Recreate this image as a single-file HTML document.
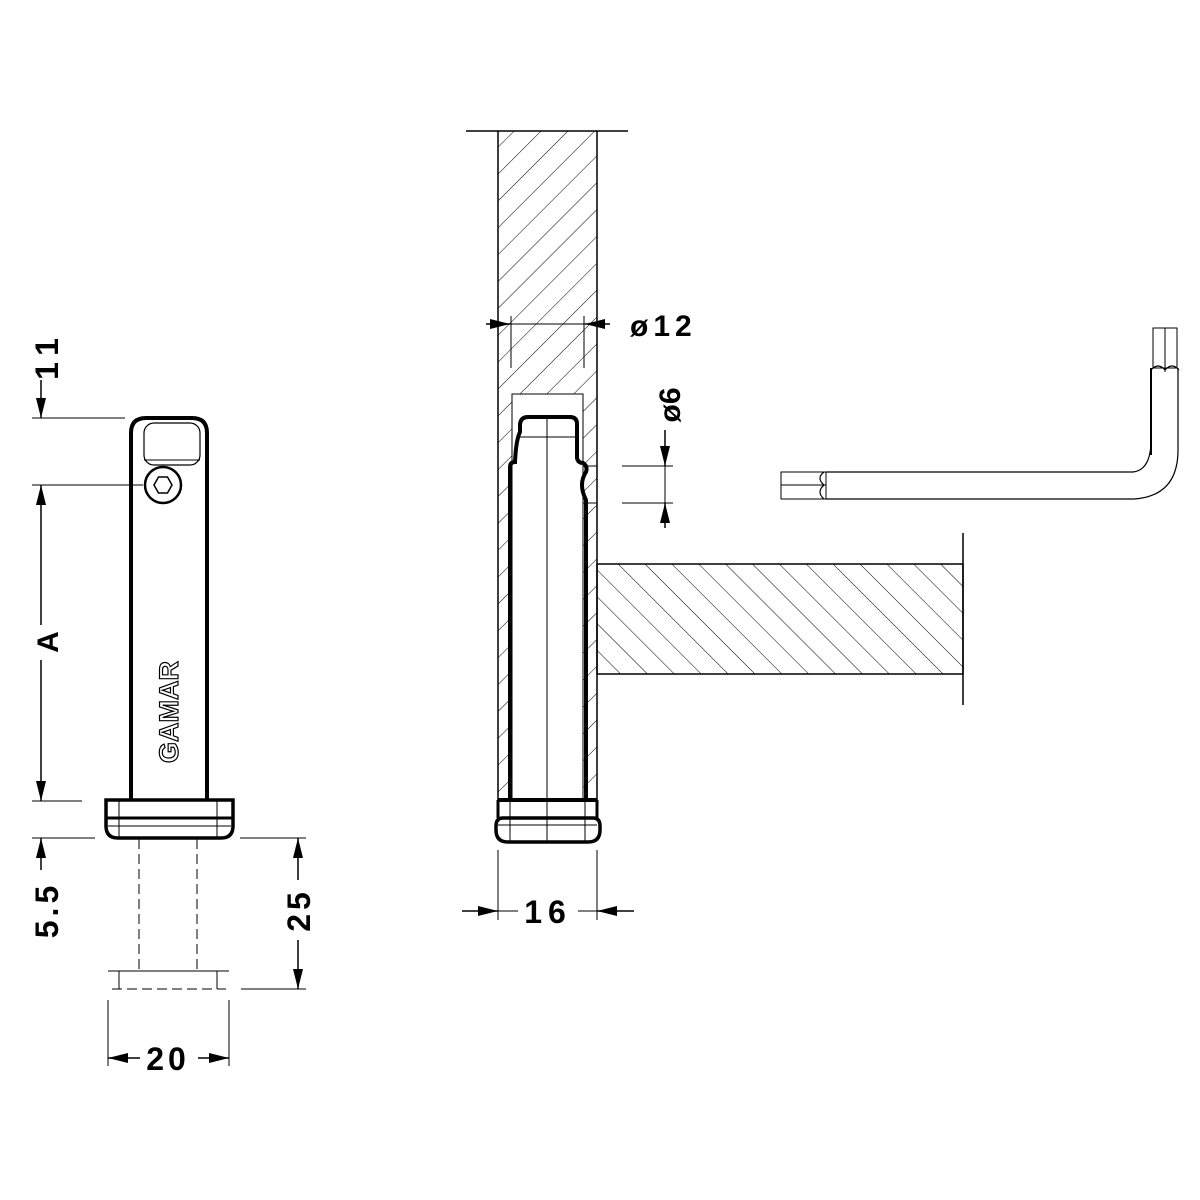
<!DOCTYPE html>
<html><head><meta charset="utf-8"><style>
html,body{margin:0;padding:0;background:#fff;}
svg{display:block;}
text{font-family:"Liberation Sans",Arial,sans-serif;font-weight:bold;fill:#000;}
</style></head><body>
<svg width="1200" height="1200" viewBox="0 0 1200 1200" xmlns="http://www.w3.org/2000/svg">
<defs>
<pattern id="h1" patternUnits="userSpaceOnUse" width="19" height="19" patternTransform="rotate(45)">
<line x1="0" y1="0" x2="0" y2="19" stroke="#000" stroke-width="1"/></pattern>
<pattern id="h2" patternUnits="userSpaceOnUse" width="19" height="19" patternTransform="rotate(-45)">
<line x1="0" y1="0" x2="0" y2="19" stroke="#000" stroke-width="1"/></pattern>
<marker id="ar" viewBox="0 0 20 10" refX="20" refY="5" markerWidth="20" markerHeight="10" markerUnits="userSpaceOnUse" orient="auto"><path d="M0,0 L20,5 L0,10 z" fill="#000" stroke="none"/></marker>
</defs>
<g stroke="#000" fill="none">
<path d="M131,800 V433 Q131,418 146,418 H192 Q207,418 207,433 V800" stroke-width="4"/>
<rect x="144" y="423" width="56" height="42" rx="10" stroke-width="1.2"/>
<line x1="144" y1="460" x2="200" y2="460" stroke-width="1"/>
<circle cx="163" cy="485" r="18" stroke-width="2.5"/>
<polygon points="154,485 158.5,477 167.5,477 172,485 167.5,493 158.5,493" stroke-width="1.5"/>
<path d="M106,800 H233 V826 Q233,838 221,838 H118 Q106,838 106,826 Z" stroke-width="3.5"/>
<line x1="106" y1="818" x2="233" y2="818" stroke-width="3"/>
<line x1="108" y1="826" x2="231" y2="826" stroke-width="1"/>
<line x1="119" y1="800" x2="119" y2="838" stroke-width="1"/>
<line x1="217" y1="800" x2="217" y2="838" stroke-width="1"/>
<line x1="139" y1="839" x2="139" y2="971" stroke-width="1" stroke-dasharray="10,5"/>
<line x1="197" y1="839" x2="197" y2="971" stroke-width="1" stroke-dasharray="10,5"/>
<line x1="108" y1="971" x2="229" y2="971" stroke-width="1"/>
<line x1="112" y1="989" x2="226" y2="989" stroke-width="1" stroke-dasharray="10,5"/>
<line x1="119" y1="971" x2="119" y2="989" stroke-width="1"/>
<line x1="217" y1="971" x2="217" y2="989" stroke-width="1"/>
<line x1="32" y1="418" x2="125" y2="418" stroke-width="1"/>
<line x1="32" y1="485" x2="143" y2="485" stroke-width="1"/>
<line x1="32" y1="801" x2="82" y2="801" stroke-width="1"/>
<line x1="32" y1="838" x2="95" y2="838" stroke-width="1"/>
<line x1="41" y1="380" x2="41" y2="418" stroke-width="1.5" marker-end="url(#ar)"/>
<line x1="41" y1="625" x2="41" y2="485" stroke-width="1.5" marker-end="url(#ar)"/>
<line x1="41" y1="660" x2="41" y2="801" stroke-width="1.5" marker-end="url(#ar)"/>
<line x1="41" y1="870" x2="41" y2="838" stroke-width="1.5" marker-end="url(#ar)"/>
<line x1="240" y1="838" x2="306" y2="838" stroke-width="1"/>
<line x1="241" y1="989" x2="306" y2="989" stroke-width="1"/>
<line x1="298" y1="880" x2="298" y2="838" stroke-width="1.5" marker-end="url(#ar)"/>
<line x1="298" y1="940" x2="298" y2="989" stroke-width="1.5" marker-end="url(#ar)"/>
<line x1="108" y1="1000" x2="108" y2="1066" stroke-width="1"/>
<line x1="229" y1="1000" x2="229" y2="1066" stroke-width="1"/>
<line x1="140" y1="1058" x2="108" y2="1058" stroke-width="1.5" marker-end="url(#ar)"/>
<line x1="198" y1="1058" x2="229" y2="1058" stroke-width="1.5" marker-end="url(#ar)"/>

<line x1="466" y1="131" x2="628" y2="131" stroke-width="1.5"/>
<path d="M498,131 H597 V800 H583 V394 H512 V800 H498 Z" fill="url(#h1)" stroke="none"/>
<line x1="498" y1="131" x2="498" y2="800" stroke-width="1.5"/>
<line x1="597" y1="131" x2="597" y2="800" stroke-width="1.5"/>
<path d="M512,800 V394 H583 V800" stroke-width="1"/>
<line x1="511" y1="316" x2="511" y2="368" stroke-width="1"/>
<line x1="584" y1="316" x2="584" y2="368" stroke-width="1"/>
<line x1="486" y1="324" x2="510" y2="324" stroke-width="1.5" marker-end="url(#ar)"/>
<line x1="610" y1="324" x2="585" y2="324" stroke-width="1.5" marker-end="url(#ar)"/>
<line x1="510" y1="324" x2="585" y2="324" stroke-width="1"/>
<path d="M510,800 V467 Q510,462 515,462 Q516,440 520,432 L520,424 Q521,417 528,417 H570 Q577,417 577,424 V458 Q578,463 583,463 Q588,466 586,472 Q578,484 586,500 V800" stroke-width="4"/>
<line x1="519" y1="437" x2="577" y2="437" stroke-width="1"/>
<line x1="547" y1="417" x2="547" y2="842" stroke-width="1"/>
<path d="M498,800 H597" stroke-width="4"/>
<path d="M498,800 V818 M597,800 V818" stroke-width="3"/>
<path d="M503,818 H593 Q600,818 600,826 V830 Q600,842 588,842 H508 Q496,842 496,830 V826 Q496,818 503,818 Z" stroke-width="3.5"/>
<line x1="498" y1="825" x2="597" y2="825" stroke-width="1"/>
<line x1="510" y1="800" x2="510" y2="842" stroke-width="1"/>
<line x1="585" y1="800" x2="585" y2="842" stroke-width="1"/>
<line x1="498" y1="850" x2="498" y2="920" stroke-width="1"/>
<line x1="597" y1="850" x2="597" y2="920" stroke-width="1"/>
<line x1="462" y1="911" x2="498" y2="911" stroke-width="1.5" marker-end="url(#ar)"/>
<line x1="634" y1="911" x2="597" y2="911" stroke-width="1.5" marker-end="url(#ar)"/>
<line x1="498" y1="911" x2="518" y2="911" stroke-width="1"/>
<line x1="578" y1="911" x2="597" y2="911" stroke-width="1"/>
<line x1="583" y1="466" x2="597" y2="466" stroke-width="1"/>
<line x1="583" y1="503" x2="597" y2="503" stroke-width="1"/>
<line x1="622" y1="466" x2="673" y2="466" stroke-width="1"/>
<line x1="622" y1="503" x2="673" y2="503" stroke-width="1"/>
<line x1="665" y1="430" x2="665" y2="466" stroke-width="1.5" marker-end="url(#ar)"/>
<line x1="665" y1="528" x2="665" y2="503" stroke-width="1.5" marker-end="url(#ar)"/>
<line x1="665" y1="466" x2="665" y2="503" stroke-width="1"/>
<rect x="597" y="564" width="366" height="110" fill="url(#h2)" stroke-width="1.5"/>
<line x1="963" y1="533" x2="963" y2="705" stroke-width="1.5"/>
<path d="M826,472 H1133 Q1151,470 1151,440 V368" stroke-width="1.2"/>
<path d="M826,499 H1134 Q1178,496 1178,450 V368" stroke-width="1.2"/>
<line x1="1151" y1="368" x2="1151" y2="455" stroke-width="2"/>
<rect x="781" y="472" width="45" height="27" stroke-width="1"/>
<line x1="781" y1="485" x2="826" y2="485" stroke-width="1"/>
<path d="M824,472 Q816,478 824,485 Q816,492 824,499" stroke-width="1.2"/>
<rect x="1153" y="328" width="24" height="40" stroke-width="1"/>
<line x1="1165" y1="328" x2="1165" y2="372" stroke-width="1"/>
<path d="M1151,370 Q1158,362 1165,370 Q1172,362 1179,370" stroke-width="1.2"/>
</g>
<text transform="translate(178,712) rotate(-90)" text-anchor="middle" font-size="27" style="fill:#fff;stroke:#000;stroke-width:1.2;font-family:'Liberation Sans',sans-serif;font-weight:bold;">GAMAR</text>
<text transform="translate(58,355) rotate(-90)" text-anchor="middle" font-size="32" letter-spacing="8">11</text>
<text transform="translate(58,642) rotate(-90)" text-anchor="middle" font-size="30">A</text>
<text transform="translate(58,910) rotate(-90)" text-anchor="middle" font-size="32" letter-spacing="4">5.5</text>
<text transform="translate(310,910) rotate(-90)" text-anchor="middle" font-size="32" letter-spacing="4">25</text>
<text x="168" y="1070" text-anchor="middle" font-size="32" letter-spacing="4">20</text>
<text x="548" y="923" text-anchor="middle" font-size="32" letter-spacing="6">16</text>
<text x="630" y="336" font-size="30" letter-spacing="5">ø12</text>
<text transform="translate(680,405) rotate(-90)" text-anchor="middle" font-size="30">ø6</text>
</svg>
</body></html>
